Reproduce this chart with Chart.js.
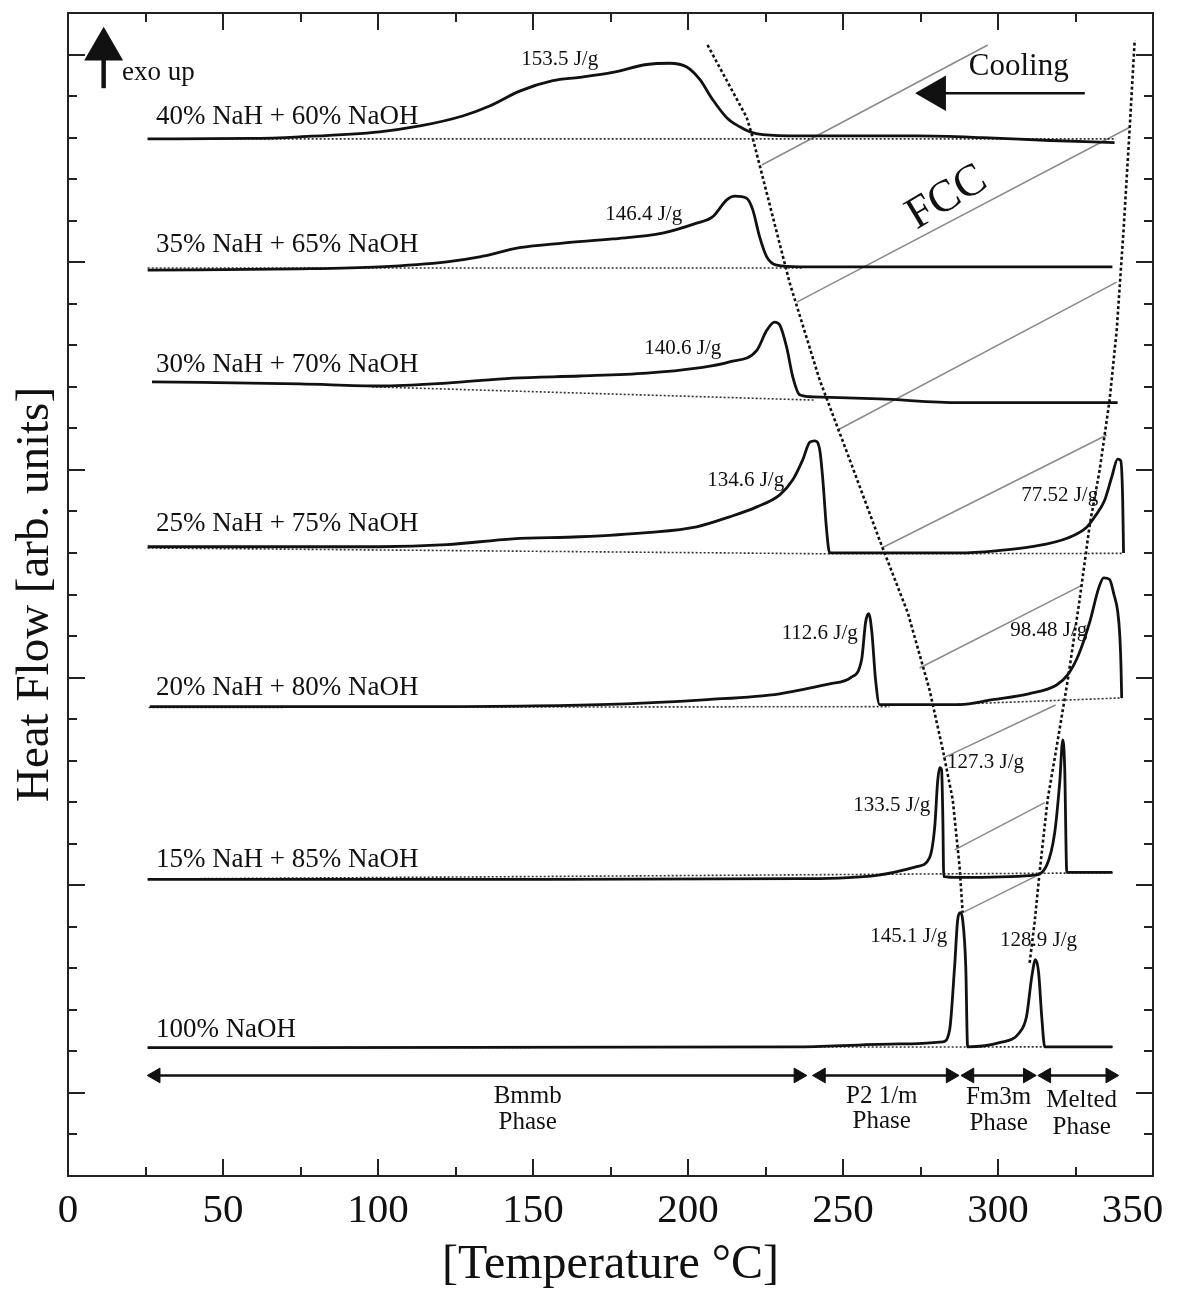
<!DOCTYPE html>
<html><head><meta charset="utf-8">
<script src="https://cdn.jsdelivr.net/npm/chart.js@4/dist/chart.umd.min.js"></script>
<style>html,body{margin:0;padding:0;background:#fff;}canvas{display:block;}</style>
</head><body>
<canvas id="c" width="1177" height="1295"></canvas>
<script>
// ---------------- DATA ----------------
const xTickLabels = [0, 50, 100, 150, 200, 250, 300, 350];
const seriesNames = ['40% NaH + 60% NaOH','35% NaH + 65% NaOH','30% NaH + 70% NaOH','25% NaH + 75% NaOH','20% NaH + 80% NaOH','15% NaH + 85% NaOH','100% NaOH'];

const t40 = [25.7,58.6,74.7,100.5,113.5,127.3,136.0,145.7,156.4,165.1,175.7,186.7,194.1,199.6,203.8,207.9,212.5,216.7,219.9,224.1,236.0,273.8,295.1,316.7,337.6];
const v40 = [22.97,22.98,23.02,23.14,23.28,23.52,23.76,24.12,24.37,24.45,24.57,24.76,24.79,24.70,24.40,23.92,23.48,23.26,23.14,23.07,23.04,23.04,23.00,22.93,22.88];

const t35 = [25.7,74.7,100.5,122.2,132.8,145.7,159.6,175.7,191.8,202.8,207.9,212.5,215.1,218.9,220.9,223.1,225.4,228.6,236.0,336.9];
const v35 = [19.81,19.84,19.89,20.01,20.13,20.35,20.46,20.56,20.70,20.94,21.09,21.50,21.59,21.54,21.26,20.61,20.13,19.93,19.89,19.89];

const t30 = [27.1,74.7,100.5,122.2,143.5,165.1,186.7,202.8,213.4,222.2,225.4,227.9,229.6,231.8,233.8,236.0,240.2,261.8,287.6,338.6];
const v30 = [17.12,17.07,17.02,17.09,17.21,17.26,17.33,17.45,17.60,17.88,18.36,18.56,18.49,17.96,17.24,16.81,16.76,16.71,16.62,16.62];

const t25 = [25.7,100.5,122.2,143.5,165.1,186.7,202.8,213.4,222.2,229.6,233.8,237.0,239.3,240.9,242.5,243.5,244.7,245.7,287.6,299.3,310.9,322.5,328.6,331.2,334.4,336.7,338.6,339.6,340.2,340.5];
const v25 = [13.15,13.15,13.20,13.34,13.39,13.49,13.63,13.87,14.11,14.40,14.76,15.24,15.67,15.70,15.48,14.76,13.56,13.00,13.00,13.05,13.15,13.36,13.62,13.87,14.27,14.83,15.26,15.22,14.35,13.00];

const t20 = [26.4,100.5,171.5,206.3,229.6,245.7,252.5,256.0,257.3,258.3,259.3,260.5,261.8,287.6,298.3,309.9,318.9,322.5,326.0,329.6,332.5,334.1,336.0,337.4,338.6,339.3,339.7,339.9];
const v20 = [9.30,9.30,9.35,9.47,9.61,9.85,10.00,10.43,11.34,11.54,11.10,9.95,9.35,9.35,9.47,9.61,9.82,10.07,10.55,11.34,12.16,12.40,12.36,12.00,11.60,11.00,10.20,9.51];

const t15 = [25.7,139.3,236.0,260.9,273.8,277.9,279.6,280.5,281.2,281.8,282.2,282.5,287.6,311.2,315.7,318.3,319.9,320.9,321.5,322.2,336.9];
const v15 = [5.14,5.14,5.16,5.24,5.45,5.66,6.41,7.47,7.83,7.78,6.65,5.21,5.19,5.24,5.48,6.27,7.47,8.50,7.86,5.31,5.31];

const t100 = [25.7,236.0,268.3,282.2,284.4,286.0,287.0,287.9,288.6,289.6,290.2,300.5,306.9,309.2,310.9,312.1,313.1,314.1,315.1,336.9];
const v100 = [1.09,1.11,1.18,1.23,1.52,3.04,4.17,4.34,4.17,3.04,1.11,1.21,1.45,1.84,2.80,3.21,2.90,1.84,1.11,1.11];

// dotted baselines [temps, values]
const base40T = [25.7, 338]; const base40V = [22.97, 22.97];
const base35T = [25.7, 237]; const base35V = [19.86, 19.86];
const base30T = [98, 241];   const base30V = [17.00, 16.68];
const base25T = [25.7, 245, 340.5]; const base25V = [13.12, 12.98, 12.99];
const base20aT = [26, 265];  const base20aV = [9.28, 9.30];
const base20bT = [287, 340]; const base20bV = [9.36, 9.51];
const base15T = [25.7, 337]; const base15V = [5.15, 5.30];
const base100T = [25.7, 337]; const base100V = [1.09, 1.11];

// phase boundaries (thick dotted)
const leftBoundT = [206.3,218.9,220.5,232.8,242.5,252.2,261.8,270.9,277.9,282.2,285.4,287.6,288.6];
const leftBoundV = [25.23,23.49,23.10,19.50,17.16,15.24,13.31,11.56,9.71,8.26,7.06,5.45,4.34];
const rightBoundT = [310.2,311.8,313.4,316.0,319.3,322.5,326.3,329.6,332.8,336.0,338.3,340.5,342.5,344.1];
const rightBoundV = [3.13,4.10,5.30,7.06,8.50,9.94,11.86,13.68,15.00,16.68,18.37,20.77,23.25,25.35];

// FCC hatch lines: [t1, v1, t2, v2]
const hatchT1 = [223.8,235.1,248.3,262.5,274.7,282.2,286.0,288.6];
const hatchV1 = [22.34,19.04,15.96,13.12,10.23,8.06,5.85,4.34];
const hatchT2 = [296.7,342.5,338.3,335.1,327.3,318.6,315.1,313.4];
const hatchV2 = [25.23,23.25,19.52,15.84,12.23,9.34,6.99,5.26];

// phase ranges (arrow tips, °C) and labels
const phaseStart = [25.7, 240.3, 288.2, 313.0];
const phaseEnd   = [238.2, 287.3, 312.2, 338.8];
const phaseLevel = 0.42;
const phaseLine1 = ['Bmmb','P2 1/m','Fm3m','Melted'];
const phaseLine2 = ['Phase','Phase','Phase','Phase'];
const phaseLabelT = [148.3, 262.5, 300.2, 327.0];
const phaseLabelV1 = [-0.09, -0.09, -0.12, -0.19];
const phaseLabelV2 = [-0.72, -0.68, -0.74, -0.82];

// series label positions (left x, baseline)
const seriesLabelT = 28.35;
const seriesLabelV = [23.33, 20.25, 17.36, 13.53, 9.59, 5.45, 1.35];

// enthalpy annotations
const enthalpyText = ['153.5 J/g','146.4 J/g','140.6 J/g','134.6 J/g','112.6 J/g','77.52 J/g','98.48 J/g','133.5 J/g','127.3 J/g','145.1 J/g','128.9 J/g'];
const enthalpyT = [158.6,185.7,198.3,218.6,242.5,319.9,316.4,265.7,296.0,271.2,313.1];
const enthalpyV = [24.87,21.16,17.93,14.74,11.06,14.38,11.13,6.92,7.95,3.76,3.66];

// arrows
const exoT = 11.5; const exoV = [24.19, 25.13];
const coolT = [279.9, 328]; const coolV = 24.07;

// ---------------- BUILD ----------------
const zip = (t, v) => t.map((x, i) => ({x, y: v[i]}));
const INK = '#111';
const datasets = [];
const curveSets = [[t40,v40],[t35,v35],[t30,v30],[t25,v25],[t20,v20],[t15,v15],[t100,v100]];
curveSets.forEach((c, i) => datasets.push({label: seriesNames[i], data: zip(c[0], c[1]), borderColor: INK, borderWidth: 2.8, pointRadius: 0, cubicInterpolationMode: 'monotone', fill: false}));
[[base40T,base40V],[base35T,base35V],[base30T,base30V],[base25T,base25V],[base20aT,base20aV],[base20bT,base20bV],[base15T,base15V],[base100T,base100V]].forEach(b =>
  datasets.push({data: zip(b[0], b[1]), borderColor: '#333', borderWidth: 1.6, borderDash: [2, 2], pointRadius: 0, tension: 0}));
[[leftBoundT,leftBoundV],[rightBoundT,rightBoundV]].forEach(b =>
  datasets.push({data: zip(b[0], b[1]), borderColor: INK, borderWidth: 2.6, borderDash: [3, 2.5], pointRadius: 0, tension: 0}));
hatchT1.forEach((t, i) => datasets.push({data: [{x: t, y: hatchV1[i]}, {x: hatchT2[i], y: hatchV2[i]}], borderColor: '#8a8a8a', borderWidth: 1.5, pointRadius: 0}));
// phase arrows
const headOff = 2.6;
phaseStart.forEach((s, i) => datasets.push({
  data: [{x: s + headOff, y: phaseLevel}, {x: phaseEnd[i] - headOff, y: phaseLevel}],
  borderColor: INK, borderWidth: 2.4, pointStyle: 'triangle', pointRadius: 8.5, pointRotation: [270, 90],
  pointBackgroundColor: INK, pointBorderColor: INK, pointBorderWidth: 1}));
// exo up arrow
datasets.push({data: [{x: exoT, y: exoV[0]}, {x: exoT, y: exoV[1]}], borderColor: INK, borderWidth: 4.5,
  pointStyle: 'triangle', pointRadius: [0, 18], pointRotation: 0, pointBackgroundColor: INK, pointBorderColor: INK});
// cooling arrow
datasets.push({data: [{x: coolT[0], y: coolV}, {x: coolT[1], y: coolV}], borderColor: INK, borderWidth: 2.5,
  pointStyle: 'triangle', pointRadius: [18, 0], pointRotation: [270, 0], pointBackgroundColor: INK, pointBorderColor: INK});

const SERIF = '"Liberation Serif", "Times New Roman", serif';
const decor = {
  id: 'decor',
  afterDatasetsDraw(chart) {
    const {ctx, chartArea: a, scales: {x, y}} = chart;
    ctx.save();
    ctx.strokeStyle = '#222'; ctx.lineWidth = 2;
    const seg = (x1, y1, x2, y2) => { ctx.beginPath(); ctx.moveTo(x1, y1); ctx.lineTo(x2, y2); ctx.stroke(); };
    x.ticks.forEach(t => {
      const v = t.value; if (v <= x.min || v >= x.max) return;
      const p = Math.round(x.getPixelForValue(v)); const L = v % 50 === 0 ? 17 : 9;
      seg(p, a.bottom, p, a.bottom - L); seg(p, a.top, p, a.top + L);
    });
    y.ticks.forEach(t => {
      const v = t.value; if (v <= y.min || v >= y.max) return;
      const p = Math.round(y.getPixelForValue(v)); const L = v % 5 === 0 ? 17 : 9;
      seg(a.left, p, a.left + L, p); seg(a.right, p, a.right - L, p);
    });
    ctx.strokeRect(a.left, a.top, a.right - a.left, a.bottom - a.top);

    ctx.fillStyle = INK;
    const txt = (s, tx, ty, size, align, base, rot) => {
      ctx.save();
      ctx.font = size + 'px ' + SERIF; ctx.textAlign = align; ctx.textBaseline = base;
      ctx.translate(x.getPixelForValue(tx), y.getPixelForValue(ty));
      if (rot) ctx.rotate(rot * Math.PI / 180);
      ctx.fillText(s, 0, 0); ctx.restore();
    };
    seriesNames.forEach((n, i) => txt(n, seriesLabelT, seriesLabelV[i], 27, 'left', 'alphabetic'));
    enthalpyText.forEach((s, i) => txt(s, enthalpyT[i], enthalpyV[i], 21, 'center', 'middle'));
    phaseLine1.forEach((s, i) => { txt(s, phaseLabelT[i], phaseLabelV1[i], 25, 'center', 'middle'); txt(phaseLine2[i], phaseLabelT[i], phaseLabelV2[i], 25, 'center', 'middle'); });
    txt('exo up', 17.4, 24.56, 27, 'left', 'middle');
    txt('Cooling', 306.7, 24.70, 31, 'center', 'middle');
    txt('FCC', 283.5, 21.55, 45, 'center', 'middle', -31);
    ctx.restore();
  }
};

new Chart(document.getElementById('c'), {
  type: 'line',
  data: {datasets},
  plugins: [decor],
  options: {
    responsive: false, animation: false, devicePixelRatio: 1, events: [],
    layout: {autoPadding: false, padding: {top: 13, right: 24, left: 0, bottom: 0}},
    plugins: {legend: {display: false}, tooltip: {enabled: false}},
    scales: {
      x: {
        type: 'linear', min: 0, max: 350,
        afterFit: s => { s.height = 119; s.paddingLeft = 0; s.paddingRight = 0; s.paddingTop = 0; s.paddingBottom = 0; },
        grid: {display: false, drawTicks: false}, border: {display: false},
        ticks: {stepSize: 25, autoSkip: false, maxRotation: 0, minRotation: 0, padding: 15, color: INK,
          font: {family: SERIF, size: 41, lineHeight: 1},
          callback: v => xTickLabels.includes(v) ? (v === 350 ? '350    ' : String(v)) : ''},
        title: {display: true, text: '[Temperature °C]', color: INK, font: {family: SERIF, size: 48, lineHeight: 1}, padding: {top: 0, bottom: 6}}
      },
      y: {
        type: 'linear', min: -2, max: 26,
        afterFit: s => { s.width = 68; s.paddingTop = 0; s.paddingBottom = 0; s.paddingLeft = 0; s.paddingRight = 0; },
        grid: {display: false, drawTicks: false}, border: {display: false},
        ticks: {stepSize: 1, display: false},
        title: {display: true, text: 'Heat Flow [arb. units]', color: INK, font: {family: SERIF, size: 47, lineHeight: 1}, padding: {top: 12, bottom: 0}}
      }
    }
  }
});
</script>
</body></html>
